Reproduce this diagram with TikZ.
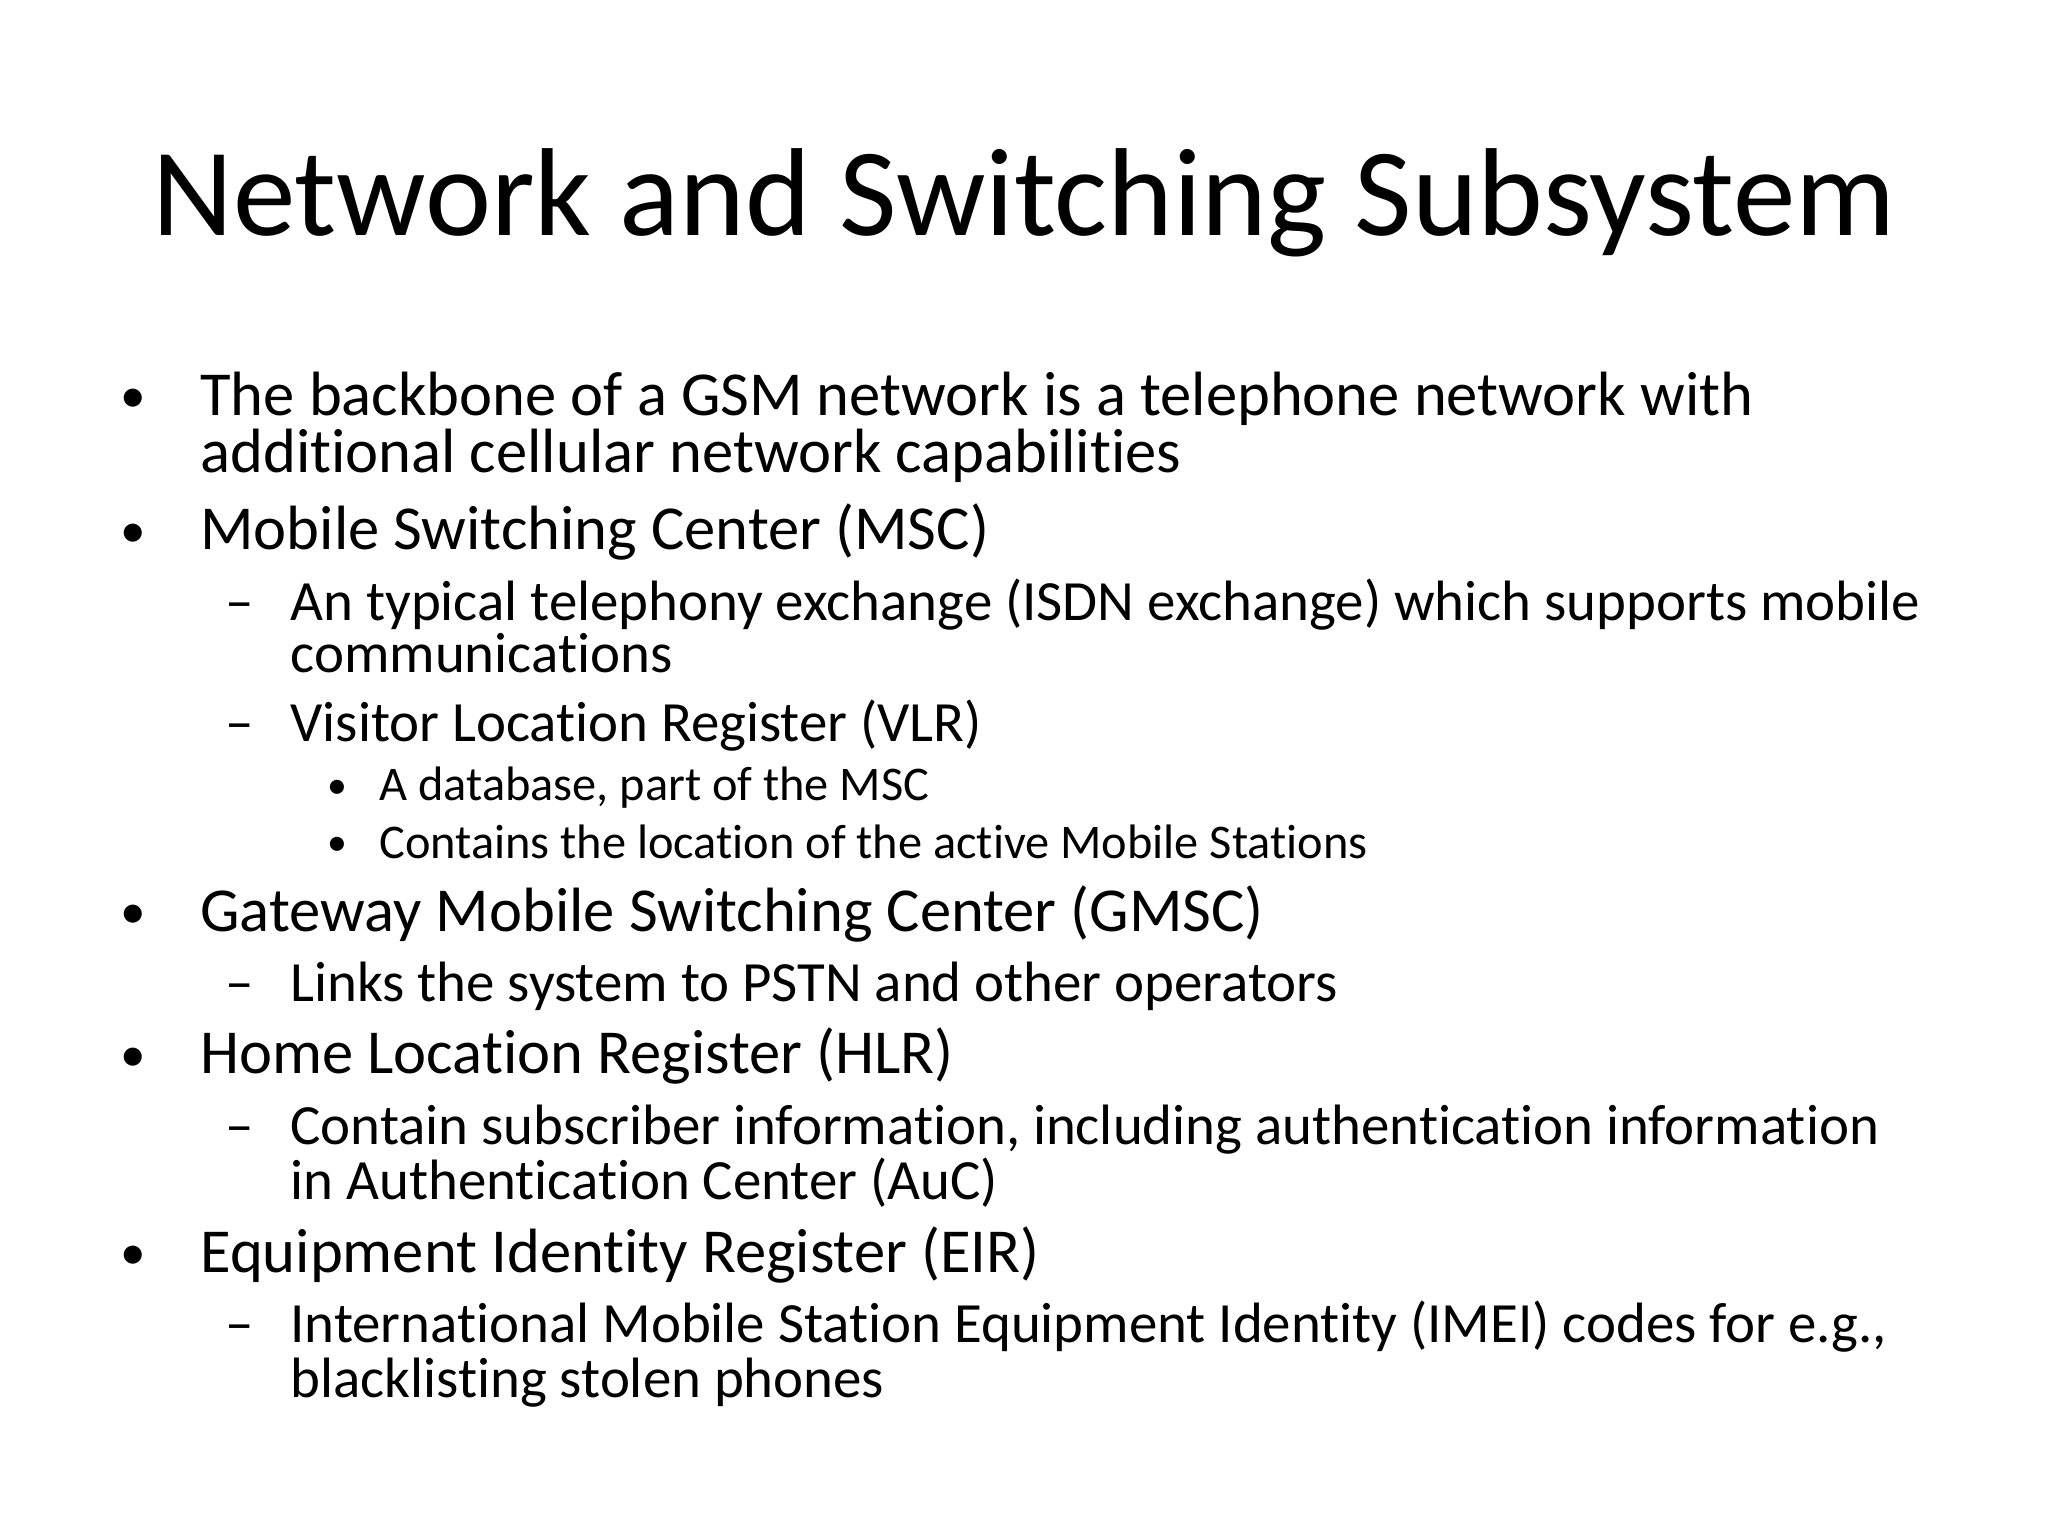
\documentclass[tikz,border=0pt]{standalone}
\usepackage{fontspec}
\setmainfont{Carlito}[RawFeature={-liga;-dlig}]
\begin{document}
\begin{tikzpicture}[x=0.4592pt,y=-0.4592pt,
  t/.style={anchor=base west,inner sep=0pt},
  la/.style={t,font=\fontsize{22}{26}\selectfont},
  lb/.style={t,font=\fontsize{20}{24}\selectfont},
  lc/.style={t,font=\fontsize{17}{20}\selectfont},
  bu/.style={anchor=base,inner sep=0pt,font=\fontsize{18}{20}\selectfont}]
\useasboundingbox (0,0) rectangle (1568,1176);
\node[anchor=base,inner sep=0pt,font=\fontsize{44}{50}\selectfont] (title) at (784,180) {Network and Switching Subsystem};
% level 1
\foreach \y/\n in {318/b1,421/b2,713/b3,822/b4,974/b5}
  \node[bu] (\n) at (102,\y-2) {•};
\node[la] (t1) at (153,318) {The backbone of a GSM network is a telephone network with};
\node[la] (t1b) at (153,362) {additional cellular network capabilities};
\node[la] (t2) at (153,421) {Mobile Switching Center (MSC)};
\node[la] (t3) at (153,713) {Gateway Mobile Switching Center (GMSC)};
\node[la] (t4) at (153,822) {Home Location Register (HLR)};
\node[la] (t5) at (153,974) {Equipment Identity Register (EIR)};
% level 2
\foreach \y/\n in {475/d1,568/d2,767/d3,876/d4,1028/d5}
  \node[lb] (\n) at (172,\y) {–};
\node[lb] (s1) at (222,475) {An typical telephony exchange (ISDN exchange) which supports mobile};
\node[lb] (s1b) at (222,515) {communications};
\node[lb] (s2) at (222,568) {Visitor Location Register (VLR)};
\node[lb] (s3) at (222,767) {Links the system to PSTN and other operators};
\node[lb] (s4) at (222,876) {Contain subscriber information, including authentication information};
\node[lb] (s4b) at (222,918) {in Authentication Center (AuC)};
\node[lb] (s5) at (222,1028) {International Mobile Station Equipment Identity (IMEI) codes for e.g.,};
\node[lb] (s5b) at (222,1070) {blacklisting stolen phones};
% level 3
\foreach \y/\n in {613/e1,657/e2}
  \node[bu,font=\fontsize{14}{16}\selectfont] (\n) at (258,\y-2) {•};
\node[lc] (u1) at (290,613) {A database, part of the MSC};
\node[lc] (u2) at (290,657) {Contains the location of the active Mobile Stations};
\end{tikzpicture}
\end{document}
